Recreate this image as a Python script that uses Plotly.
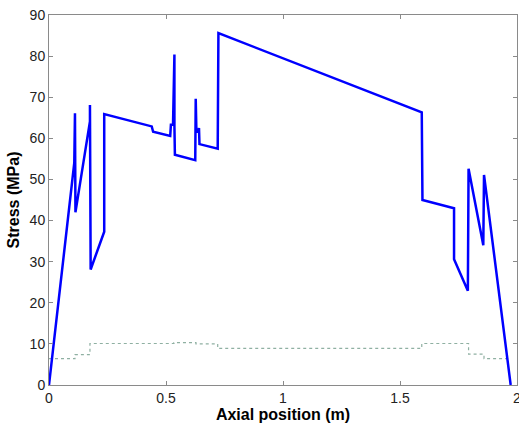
import plotly.graph_objects as go

# Blue stress curve (axial position in m, stress in MPa)
stress_x = [0.0, 0.083, 0.108, 0.111, 0.111, 0.113, 0.175, 0.175, 0.178, 0.178,
            0.236, 0.236, 0.439, 0.445, 0.518, 0.521, 0.530, 0.536, 0.536, 0.538,
            0.625, 0.627, 0.630, 0.638, 0.641, 0.643, 0.721, 0.724, 1.593, 1.596,
            1.731, 1.731, 1.790, 1.793, 1.856, 1.859, 1.973]
stress_y = [0.0, 42.6, 54.0, 66.1, 54.0, 42.0, 64.1, 68.1, 50.0, 28.1,
            37.3, 65.9, 62.9, 61.6, 60.6, 63.3, 63.3, 80.4, 63.0, 56.0,
            54.7, 69.6, 61.6, 61.6, 62.5, 58.6, 57.5, 85.6, 66.3, 45.0,
            43.0, 30.6, 22.9, 52.6, 34.0, 51.1, 0.0]

# Green dotted reference curve (step profile)
ref_x = [0.0, 0.111, 0.111, 0.175, 0.175, 0.534, 0.534, 0.628, 0.628, 0.721,
         0.721, 1.593, 1.593, 1.793, 1.793, 1.859, 1.859, 1.967]
ref_y = [6.4, 6.4, 7.4, 7.4, 10.1, 10.1, 10.3, 10.3, 10.0, 10.0,
         8.9, 8.9, 10.1, 10.1, 7.5, 7.5, 6.4, 6.4]

x_ticks = [0, 0.5, 1, 1.5, 2]
x_tick_labels = ["0", "0.5", "1", "1.5", "2"]
y_ticks = [0, 10, 20, 30, 40, 50, 60, 70, 80, 90]

fig = go.Figure()
fig.add_trace(go.Scatter(x=ref_x, y=ref_y, mode="lines",
                         line=dict(color="#8fb0a2", width=1.2, dash="dot"),
                         hoverinfo="skip"))
fig.add_trace(go.Scatter(x=stress_x, y=stress_y, mode="lines",
                         line=dict(color="#0000ff", width=2.5)))

axis_common = dict(showgrid=False, zeroline=False, showline=True,
                   linecolor="#8a8a8a", linewidth=1, mirror="ticks",
                   ticks="inside", ticklen=4, tickcolor="#8a8a8a", automargin=False,
                   tickfont=dict(family="Liberation Sans, Arial", size=14, color="#222"))

fig.update_layout(
    width=519, height=423,
    margin=dict(l=49, r=2, t=15, b=38),
    paper_bgcolor="white", plot_bgcolor="white",
    showlegend=False,
    xaxis=dict(range=[0, 2], tickvals=x_ticks, ticktext=x_tick_labels,
               ticklabeloverflow="allow",
               title=dict(text="<b>Axial position (m)</b>", standoff=2,
                          font=dict(family="Liberation Sans, Arial", size=16, color="#000")),
               **axis_common),
    yaxis=dict(range=[0, 90], tickvals=y_ticks,
               title=dict(text="<b>Stress (MPa)</b>", standoff=6,
                          font=dict(family="Liberation Sans, Arial", size=16, color="#000")),
               **axis_common),
)

fig.write_html("out.html")
